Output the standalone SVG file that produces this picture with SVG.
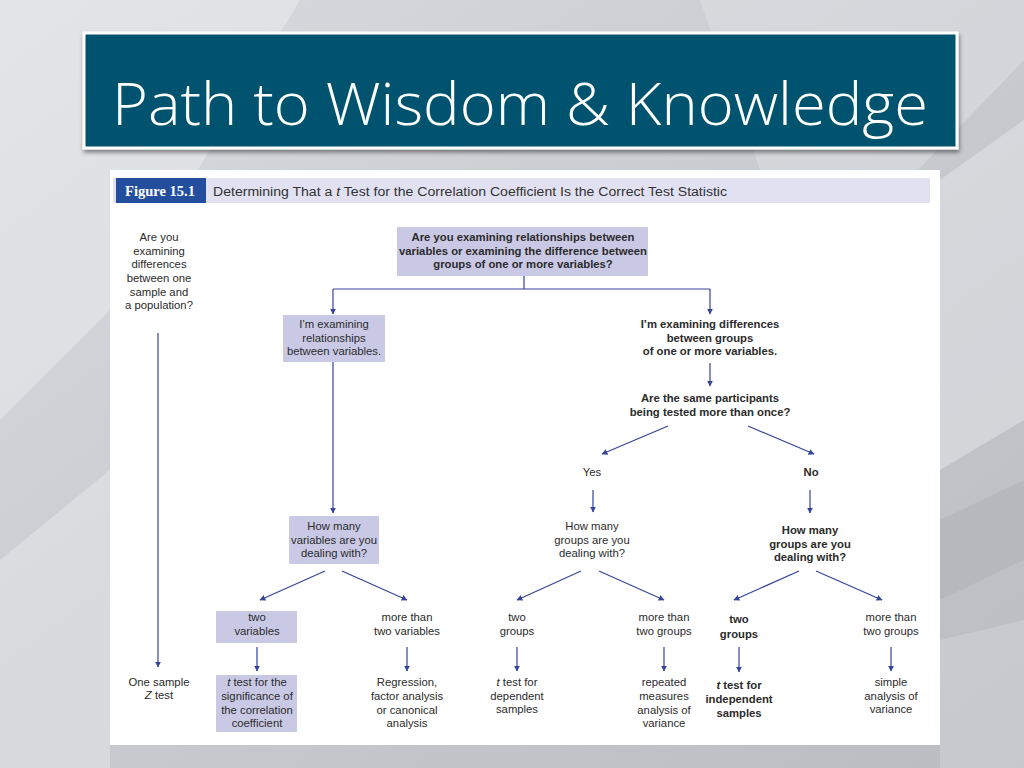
<svg xmlns="http://www.w3.org/2000/svg" width="1024" height="768" viewBox="0 0 1024 768">
<defs>
<linearGradient id="bg" x1="0" y1="0" x2="1" y2="1">
<stop offset="0" stop-color="#d9dcdf"/>
<stop offset="0.45" stop-color="#c9cdd1"/>
<stop offset="1" stop-color="#b9bdc2"/>
</linearGradient>
<filter id="sh" x="-5%" y="-10%" width="110%" height="130%">
<feGaussianBlur in="SourceAlpha" stdDeviation="2"/>
<feOffset dx="1" dy="3"/>
<feComponentTransfer><feFuncA type="linear" slope="0.45"/></feComponentTransfer>
<feMerge><feMergeNode/><feMergeNode in="SourceGraphic"/></feMerge>
</filter>
<marker id="ah" viewBox="0 0 10 10" refX="9" refY="5" markerWidth="6" markerHeight="6" markerUnits="userSpaceOnUse" orient="auto">
<path d="M0,0 L10,5 L0,10 z" fill="#34449a"/>
</marker>
<style>
.t{font-family:"Liberation Sans",Arial,sans-serif;font-size:11.3px;fill:#2b2b2b;text-anchor:middle}
.b{font-weight:bold}
.box{fill:#c9c9e6}
.c{stroke:#34449a;stroke-width:1.2;fill:none}
.a{marker-end:url(#ah)}
</style>
</defs>
<rect width="1024" height="768" fill="url(#bg)"/>
<g opacity="0.5">
<polygon points="0,0 300,0 120,300 0,420" fill="#eceef0"/>
<polygon points="700,0 1024,0 1024,60 860,230 760,170" fill="#dfe2e5"/>
<polygon points="940,180 1024,120 1024,420 940,470" fill="#e6e8ea"/>
<polygon points="940,520 1024,480 1024,560 940,600" fill="#aeb2b7"/>
<polygon points="0,560 110,470 110,768 0,768" fill="#e8eaec"/>
<polygon points="940,640 1024,620 1024,768 940,768" fill="#d2d5d8"/>
<polygon points="440,150 520,40 600,40 530,150" fill="#b5b9be"/>
</g>
<g id="title">
<rect x="84" y="33" width="873" height="115" fill="#02536e" stroke="#ffffff" stroke-width="3" filter="url(#sh)"/>
<text x="112" y="125" font-family="'Open Sans','Liberation Sans',sans-serif" font-weight="300" font-size="58" fill="#ffffff" textLength="816" lengthAdjust="spacingAndGlyphs">Path to Wisdom &amp; Knowledge</text>
</g>
<g id="panel">
<rect x="110" y="170" width="830" height="575" fill="#ffffff"/>
<rect x="113" y="178" width="817" height="25" fill="#e1e1f1"/>
<rect x="116" y="178" width="90" height="25" fill="#234e9e"/>
<text x="160" y="196" font-family="'Liberation Serif',serif" font-weight="bold" font-size="14.5" fill="#ffffff" text-anchor="middle">Figure 15.1</text>
<text x="213" y="196" font-family="'Liberation Sans',sans-serif" font-size="12.5" fill="#333333" textLength="514" lengthAdjust="spacingAndGlyphs">Determining That a <tspan font-style="italic">t</tspan> Test for the Correlation Coefficient Is the Correct Test Statistic</text>
</g>
<g id="connectors">
<path class="c a" d="M158,333 V667"/>
<path class="c" d="M524,276 V289 M333,289 H710"/>
<path class="c a" d="M333,289 V314"/>
<path class="c a" d="M710,289 V314"/>
<path class="c a" d="M333,362 V513"/>
<path class="c a" d="M710,363 V386"/>
<path class="c a" d="M668,426 L602,454"/>
<path class="c a" d="M748,426 L814,454"/>
<path class="c a" d="M593,490 V512"/>
<path class="c a" d="M810,490 V513"/>
<path class="c a" d="M325,571 L260,600"/>
<path class="c a" d="M342,571 L407,600"/>
<path class="c a" d="M581,571 L517,600"/>
<path class="c a" d="M599,571 L664,600"/>
<path class="c a" d="M799,571 L734,600"/>
<path class="c a" d="M816,571 L882,600"/>
<path class="c a" d="M257,647 V671"/>
<path class="c a" d="M407,647 V671"/>
<path class="c a" d="M517,647 V671"/>
<path class="c a" d="M664,647 V671"/>
<path class="c a" d="M739,647 V672"/>
<path class="c a" d="M891,647 V671"/>
</g>
<g id="n-population">
<text class="t" x="159" y="241">Are you</text>
<text class="t" x="159" y="255">examining</text>
<text class="t" x="159" y="268">differences</text>
<text class="t" x="159" y="282">between one</text>
<text class="t" x="159" y="296">sample and</text>
<text class="t" x="159" y="309">a population?</text>
</g>
<g id="n-root">
<rect class="box" x="397" y="227" width="251" height="49"/>
<text class="t b" x="523" y="241">Are you examining relationships between</text>
<text class="t b" x="523" y="254.5">variables or examining the difference between</text>
<text class="t b" x="523" y="268">groups of one or more variables?</text>
</g>
<g id="n-relationships">
<rect class="box" x="283" y="315" width="102" height="47"/>
<text class="t" x="334" y="328">I’m examining</text>
<text class="t" x="334" y="342">relationships</text>
<text class="t" x="334" y="355">between variables.</text>
</g>
<g id="n-differences">
<text class="t b" x="710" y="328">I’m examining differences</text>
<text class="t b" x="710" y="342">between groups</text>
<text class="t b" x="710" y="355">of one or more variables.</text>
</g>
<g id="n-same">
<text class="t b" x="710" y="402">Are the same participants</text>
<text class="t b" x="710" y="416">being tested more than once?</text>
</g>
<g id="n-yes"><text class="t" x="592" y="476">Yes</text></g>
<g id="n-no"><text class="t b" x="811" y="476">No</text></g>
<g id="n-howvars">
<rect class="box" x="289" y="516" width="90" height="48"/>
<text class="t" x="334" y="530">How many</text>
<text class="t" x="334" y="544">variables are you</text>
<text class="t" x="334" y="557">dealing with?</text>
</g>
<g id="n-howgroups-yes">
<text class="t" x="592" y="530">How many</text>
<text class="t" x="592" y="544">groups are you</text>
<text class="t" x="592" y="557">dealing with?</text>
</g>
<g id="n-howgroups-no">
<text class="t b" x="810" y="534">How many</text>
<text class="t b" x="810" y="548">groups are you</text>
<text class="t b" x="810" y="561">dealing with?</text>
</g>
<g id="n-twovars">
<rect class="box" x="216" y="611" width="81" height="32"/>
<text class="t" x="257" y="621">two</text>
<text class="t" x="257" y="635">variables</text>
</g>
<g id="n-morevars">
<text class="t" x="407" y="621">more than</text>
<text class="t" x="407" y="635">two variables</text>
</g>
<g id="n-twogroups-yes">
<text class="t" x="517" y="621">two</text>
<text class="t" x="517" y="635">groups</text>
</g>
<g id="n-moregroups-yes">
<text class="t" x="664" y="621">more than</text>
<text class="t" x="664" y="635">two groups</text>
</g>
<g id="n-twogroups-no">
<text class="t b" x="739" y="623">two</text>
<text class="t b" x="739" y="638">groups</text>
</g>
<g id="n-moregroups-no">
<text class="t" x="891" y="621">more than</text>
<text class="t" x="891" y="635">two groups</text>
</g>
<g id="n-ztest">
<text class="t" x="159" y="686">One sample</text>
<text class="t" x="159" y="699"><tspan font-style="italic">Z</tspan> test</text>
</g>
<g id="n-corr">
<rect class="box" x="216" y="675" width="81" height="57"/>
<text class="t" x="257" y="686"><tspan font-style="italic">t</tspan> test for the</text>
<text class="t" x="257" y="700">significance of</text>
<text class="t" x="257" y="714">the correlation</text>
<text class="t" x="257" y="727">coefficient</text>
</g>
<g id="n-regression">
<text class="t" x="407" y="686">Regression,</text>
<text class="t" x="407" y="700">factor analysis</text>
<text class="t" x="407" y="714">or canonical</text>
<text class="t" x="407" y="727">analysis</text>
</g>
<g id="n-dependent">
<text class="t" x="517" y="686"><tspan font-style="italic">t</tspan> test for</text>
<text class="t" x="517" y="700">dependent</text>
<text class="t" x="517" y="713">samples</text>
</g>
<g id="n-repeated">
<text class="t" x="664" y="686">repeated</text>
<text class="t" x="664" y="700">measures</text>
<text class="t" x="664" y="714">analysis of</text>
<text class="t" x="664" y="727">variance</text>
</g>
<g id="n-independent">
<text class="t b" x="739" y="689"><tspan font-style="italic">t</tspan> test for</text>
<text class="t b" x="739" y="703">independent</text>
<text class="t b" x="739" y="717">samples</text>
</g>
<g id="n-anova">
<text class="t" x="891" y="686">simple</text>
<text class="t" x="891" y="700">analysis of</text>
<text class="t" x="891" y="713">variance</text>
</g>
</svg>
